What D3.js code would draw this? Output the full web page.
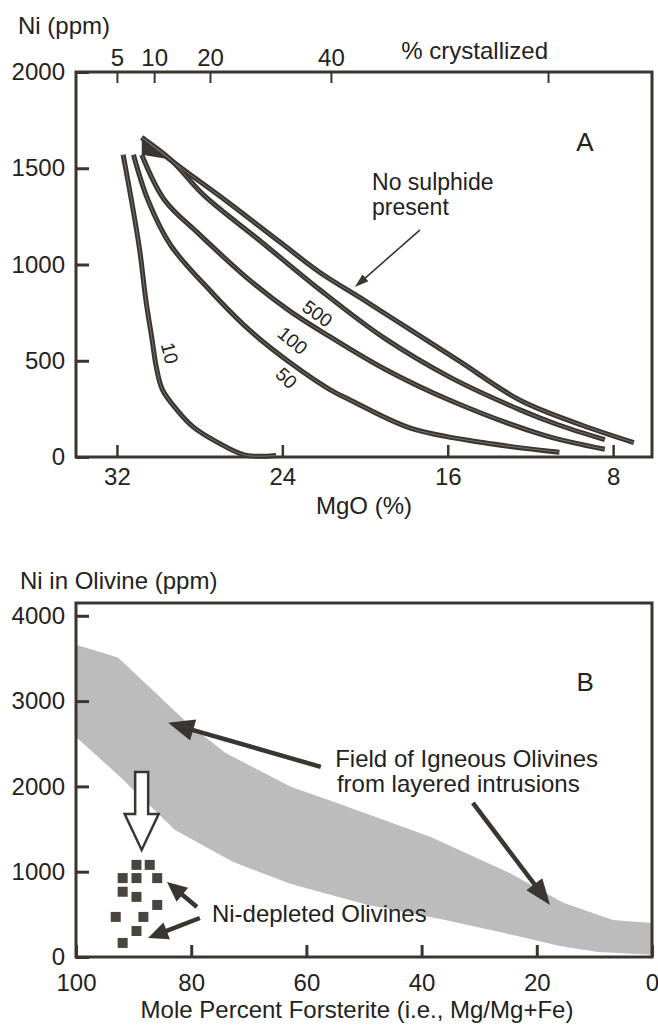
<!DOCTYPE html>
<html>
<head>
<meta charset="utf-8">
<script src="https://cdn.jsdelivr.net/npm/d3@7"></script>
<style>
  body { margin: 0; background: #fff; }
  svg { display: block; font-family: "Liberation Sans", Arial, Helvetica, sans-serif; }
</style>
</head>
<body>
<div id="chart"></div>
<script>
// ---- panel A data: Ni in melt vs MgO ----
const mgoTicks = [32, 24, 16, 8];
const niTicksA = [0, 500, 1000, 1500, 2000];
const crystLabels = ["5", "10", "20", "40", ""];
const crystMgO = [32.0, 30.2, 27.5, 21.65, 11.15];

const noSulphMgO = [30.8, 29.0, 26.9, 24.1, 22.2, 20.2, 17.8, 15.4, 12.5, 9.5, 7.0];
const noSulphNi  = [1660, 1510, 1345, 1115, 960, 825, 660, 495, 295, 165, 75];
const c500MgO = [30.8, 29.4, 27.8, 25.1, 22.2, 19.1, 15.9, 12.5, 10.6, 8.4];
const c500Ni  = [1660, 1545, 1360, 1125, 870, 620, 415, 245, 165, 90];
const c100MgO = [30.8, 29.7, 28.0, 25.6, 23.6, 21.7, 19.1, 15.9, 11.4, 8.4];
const c100Ni  = [1570, 1335, 1155, 920, 755, 625, 460, 295, 115, 40];
const c50MgO = [31.2, 30.5, 29.4, 27.5, 25.6, 23.5, 21.7, 20.7, 17.8, 14.3, 10.6];
const c50Ni  = [1570, 1335, 1100, 865, 660, 480, 350, 295, 150, 75, 25];
const c10MgO = [31.7, 31.3, 30.9, 30.6, 30.3, 30.1, 29.8, 29.1, 28.3, 27.2, 25.8, 24.3];
const c10Ni  = [1570, 1335, 1075, 815, 610, 470, 350, 245, 155, 80, 10, 8];

const curveLabels = ["500", "100", "50", "10"];
const curveLabelMgO = [22.3, 23.5, 23.8, 29.45];
const curveLabelNi = [745, 605, 410, 540];
const curveLabelAngle = [36, 40, 44, 76];

// ---- panel B data: Ni in olivine vs Fo ----
const foTicks = [100, 80, 60, 40, 20, 0];
const niTicksB = [0, 1000, 2000, 3000, 4000];
const fieldUpperFo = [100, 92.7, 80.7, 74.1, 62.7, 54.7, 38.5, 24.7, 15.4, 6.8, 0];
const fieldUpperNi = [3660, 3510, 2745, 2395, 1995, 1805, 1410, 985, 635, 435, 400];
const fieldLowerFo = [100, 92.7, 82.8, 72.7, 62.7, 49.3, 35.9, 22.6, 16, 9.4, 0];
const fieldLowerNi = [2580, 2135, 1490, 1115, 855, 610, 435, 235, 130, 60, 25];
const depletedFo = [89.5, 87.2, 91.9, 89.5, 85.9, 91.9, 89.5, 85.9, 93.1, 88.3, 89.5, 91.9];
const depletedNi = [1080, 1080, 925, 925, 925, 765, 705, 610, 470, 470, 305, 165];

const W = 658, H = 1030;
const ink = "#3a3530";
const fs = 24;

const svg = d3.select("#chart").append("svg")
    .attr("width", W)
    .attr("height", H);

const xA = d3.scaleLinear().domain([33.98, 6.12]).range([76, 652]);
const yA = d3.scaleLinear().domain([0, 2000]).range([457, 72]);
const xB = d3.scaleLinear().domain([100, 0]).range([76, 652]);
const yB = d3.scaleLinear().domain([0, 4150]).range([957, 603]);

function styleAxis(g, tw) {
    g.select(".domain").remove();
    g.selectAll(".tick line").attr("stroke", ink).attr("stroke-width", tw);
    g.selectAll(".tick text").attr("fill", "#222").style("font-size", fs + "px");
}

// arrow polygon from tail to tip
function arrowPts(p1, p2, shaft, headL, headW) {
    const dx = p2[0] - p1[0], dy = p2[1] - p1[1];
    const len = Math.hypot(dx, dy);
    const ux = dx / len, uy = dy / len;
    const nx = -uy, ny = ux;
    const bx = p2[0] - ux * headL, by = p2[1] - uy * headL;
    return [
        [p1[0] + nx * shaft / 2, p1[1] + ny * shaft / 2],
        [bx + nx * shaft / 2, by + ny * shaft / 2],
        [bx + nx * headW / 2, by + ny * headW / 2],
        p2,
        [bx - nx * headW / 2, by - ny * headW / 2],
        [bx - nx * shaft / 2, by - ny * shaft / 2],
        [p1[0] - nx * shaft / 2, p1[1] - ny * shaft / 2]
    ].map(p => p.join(",")).join(" ");
}

// =====================
// Panel A
// =====================
const gA = svg.append("g");

gA.append("g")
    .attr("transform", "translate(76,0)")
    .call(d3.axisLeft(yA).tickValues(niTicksA).tickFormat(d3.format("d"))
        .tickSizeInner(-13).tickSizeOuter(0).tickPadding(11))
    .call(g => styleAxis(g, 3));

gA.append("g")
    .attr("transform", "translate(0,457)")
    .call(d3.axisBottom(xA).tickValues(mgoTicks).tickFormat(d3.format("d"))
        .tickSizeInner(-12).tickSizeOuter(0).tickPadding(11))
    .call(g => styleAxis(g, 2.5));

gA.append("g")
    .attr("transform", "translate(0,72)")
    .call(d3.axisTop(xA).tickValues(crystMgO).tickFormat((d, i) => crystLabels[i])
        .tickSizeInner(-11).tickSizeOuter(0).tickPadding(6))
    .call(g => styleAxis(g, 2));

gA.append("rect")
    .attr("x", 76).attr("y", 72)
    .attr("width", 652 - 76).attr("height", 457 - 72)
    .attr("fill", "none").attr("stroke", ink).attr("stroke-width", 3);

gA.append("text").attr("x", 18).attr("y", 34).text("Ni (ppm)")
    .style("font-size", fs + "px").attr("fill", "#222");
gA.append("text").attr("x", xA(crystMgO[4])).attr("y", 59).attr("text-anchor", "end")
    .text("% crystallized").style("font-size", fs + "px").attr("fill", "#222");
gA.append("text").attr("x", 364).attr("y", 514).attr("text-anchor", "middle")
    .text("MgO (%)").style("font-size", fs + "px").attr("fill", "#222");
gA.append("text").attr("x", xA(9.36)).attr("y", yA(1636)).attr("dy", "0.36em")
    .attr("text-anchor", "middle").text("A").style("font-size", "26px").attr("fill", "#222");

const lineA = d3.line()
    .x(d => xA(d[0]))
    .y(d => yA(d[1]))
    .curve(d3.curveCatmullRom.alpha(0.5));

const curvesA = [
    d3.zip(noSulphMgO, noSulphNi),
    d3.zip(c500MgO, c500Ni),
    d3.zip(c100MgO, c100Ni),
    d3.zip(c50MgO, c50Ni),
    d3.zip(c10MgO, c10Ni)
];

// dark wedge where the two upper curves leave the apex
gA.append("polygon")
    .attr("points", [curvesA[0][0], curvesA[2][0], curvesA[1][1]]
        .map(d => [xA(d[0]), yA(d[1])].join(",")).join(" "))
    .attr("fill", ink);

gA.selectAll("path.curve")
    .data(curvesA)
    .enter()
    .append("path")
    .attr("class", "curve")
    .attr("d", lineA)
    .attr("fill", "none")
    .attr("stroke", ink)
    .attr("stroke-width", 5)
    .attr("stroke-linejoin", "round");

gA.selectAll("path.core")
    .data(curvesA)
    .enter()
    .append("path")
    .attr("class", "core")
    .attr("d", lineA)
    .attr("fill", "none")
    .attr("stroke", "#7a736b")
    .attr("stroke-width", 1);

gA.selectAll("text.clabel")
    .data(curveLabels)
    .enter()
    .append("text")
    .attr("class", "clabel")
    .attr("transform", (d, i) => `translate(${xA(curveLabelMgO[i])},${yA(curveLabelNi[i])}) rotate(${curveLabelAngle[i]})`)
    .attr("text-anchor", "middle")
    .attr("dy", "0.35em")
    .text(d => d)
    .style("font-size", "19px")
    .attr("fill", "#222");

gA.append("text").attr("x", xA(19.66)).attr("y", yA(1385))
    .text("No sulphide").style("font-size", "23px").attr("fill", "#222");
gA.append("text").attr("x", xA(19.66)).attr("y", yA(1255))
    .text("present").style("font-size", "23px").attr("fill", "#222");

gA.append("polygon")
    .attr("points", arrowPts([xA(17.34), yA(1180)], [xA(20.49), yA(883)], 1.6, 14, 9))
    .attr("fill", ink);

// =====================
// Panel B
// =====================
const gB = svg.append("g");

const fieldPts = d3.zip(fieldUpperFo, fieldUpperNi)
    .concat(d3.zip(fieldLowerFo, fieldLowerNi).reverse());

gB.append("path")
    .datum(fieldPts)
    .attr("d", d3.line().x(d => xB(d[0])).y(d => yB(d[1])).curve(d3.curveLinearClosed))
    .attr("fill", "#bcbcbc");

gB.append("g")
    .attr("transform", "translate(76,0)")
    .call(d3.axisLeft(yB).tickValues(niTicksB).tickFormat(d3.format("d"))
        .tickSizeInner(-13).tickSizeOuter(0).tickPadding(11))
    .call(g => styleAxis(g, 3));

gB.append("g")
    .attr("transform", "translate(0,957)")
    .call(d3.axisBottom(xB).tickValues(foTicks).tickFormat(d3.format("d"))
        .tickSizeInner(-12).tickSizeOuter(0).tickPadding(17))
    .call(g => styleAxis(g, 3));

gB.append("rect")
    .attr("x", 76).attr("y", 603)
    .attr("width", 652 - 76).attr("height", 957 - 603)
    .attr("fill", "none").attr("stroke", ink).attr("stroke-width", 3);

gB.append("text").attr("x", 20).attr("y", 589).text("Ni in Olivine (ppm)")
    .style("font-size", fs + "px").attr("fill", "#222");
gB.append("text").attr("x", 357).attr("y", 1018).attr("text-anchor", "middle")
    .text("Mole Percent Forsterite (i.e., Mg/Mg+Fe)").style("font-size", fs + "px").attr("fill", "#222");
gB.append("text").attr("x", xB(11.6)).attr("y", yB(3226)).attr("dy", "0.36em")
    .attr("text-anchor", "middle").text("B").style("font-size", "26px").attr("fill", "#222");

gB.append("text").attr("x", xB(55.0)).attr("y", yB(2229))
    .text("Field of Igneous Olivines").style("font-size", fs + "px").attr("fill", "#222");
gB.append("text").attr("x", xB(54.7)).attr("y", yB(1935))
    .text("from layered intrusions").style("font-size", fs + "px").attr("fill", "#222");
gB.append("text").attr("x", xB(76.4)).attr("y", yB(411))
    .text("Ni-depleted Olivines").style("font-size", fs + "px").attr("fill", "#222");

// depleted olivines
gB.selectAll("rect.sq")
    .data(d3.zip(depletedFo, depletedNi))
    .enter()
    .append("rect")
    .attr("class", "sq")
    .attr("x", d => xB(d[0]) - 5)
    .attr("y", d => yB(d[1]) - 5)
    .attr("width", 10)
    .attr("height", 10)
    .attr("fill", "#4a443e");

// arrows
const bArrows = [
    { from: [57.5, 2229], to: [84.0, 2745], s: 4.5, l: 26, w: 22 },
    { from: [31.1, 1806], to: [17.7, 610], s: 4.5, l: 26, w: 20 },
    { from: [79.0, 587], to: [84.2, 880], s: 4.5, l: 20, w: 18 },
    { from: [78.5, 457], to: [87.5, 223], s: 4.5, l: 20, w: 18 }
];
gB.selectAll("polygon.arr")
    .data(bArrows)
    .enter()
    .append("polygon")
    .attr("class", "arr")
    .attr("points", d => arrowPts([xB(d.from[0]), yB(d.from[1])], [xB(d.to[0]), yB(d.to[1])], d.s, d.l, d.w))
    .attr("fill", ink);

// hollow arrow
gB.append("polygon")
    .attr("points", arrowPts([xB(88.6), yB(2170)], [xB(88.6), yB(1255)], 13, 36, 34))
    .attr("fill", "#fff")
    .attr("stroke", ink)
    .attr("stroke-width", 2.5)
    .attr("stroke-linejoin", "miter");
</script>
</body>
</html>
